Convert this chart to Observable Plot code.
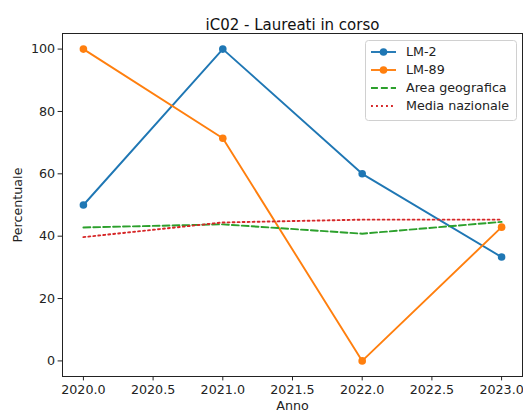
<!DOCTYPE html>
<html>
<head>
<meta charset="utf-8">
<script src="https://cdn.jsdelivr.net/npm/d3@7"></script>
<script src="https://cdn.jsdelivr.net/npm/@observablehq/plot@0.6"></script>
<style>
  body { margin: 0; background: #fff; }
  #wrap { position: relative; width: 523px; height: 412px; overflow: hidden; font-family: "DejaVu Sans", sans-serif; }
  #legend { position: absolute; left: 365px; top: 40px; }
</style>
</head>
<body>
<div id="wrap"></div>
<script>
const title = "iC02 - Laureati in corso";
const xLabel = "Anno";
const yLabel = "Percentuale";
const years = [2020, 2021, 2022, 2023];
const xTicks = [2020.0, 2020.5, 2021.0, 2021.5, 2022.0, 2022.5, 2023.0];
const yTicks = [0, 20, 40, 60, 80, 100];
const seriesNames = ["LM-2", "LM-89", "Area geografica", "Media nazionale"];
const lm2 = [50, 100, 60, 33.3];
const lm89 = [100, 71.4, 0, 42.9];
const areaGeo = [42.8, 43.8, 40.8, 44.6];
const mediaNaz = [39.7, 44.4, 45.3, 45.3];
const seriesColors = ["#1f77b4", "#ff7f0e", "#2ca02c", "#d62728"];
const seriesDash = [null, null, "6.9,3", "1.9,3.1"];
const seriesMarkers = [true, true, false, false];

const allValues = [lm2, lm89, areaGeo, mediaNaz];
const rows = [];
allValues.forEach((vals, si) => vals.forEach((v, i) => rows.push({serie: seriesNames[si], anno: years[i], val: v})));

const marks = [Plot.frame({stroke: "#222", strokeWidth: 1})];
seriesNames.forEach((name, si) => {
  const d = rows.filter(r => r.serie === name);
  marks.push(Plot.line(d, {x: "anno", y: "val", stroke: seriesColors[si], strokeWidth: 1.9,
    strokeDasharray: seriesDash[si] || undefined}));
  if (seriesMarkers[si]) marks.push(Plot.dot(d, {x: "anno", y: "val", r: 3.8, fill: seriesColors[si], stroke: "none"}));
});
marks.push(Plot.text([title], {frameAnchor: "top", dy: -14.5, fontSize: 15, fill: "#111"}));

const chart = Plot.plot({
  width: 523, height: 412,
  marginTop: 33, marginLeft: 62, marginRight: 1, marginBottom: 36,
  style: {fontFamily: "DejaVu Sans, sans-serif", fontSize: "12.7px", color: "#222", background: "white"},
  x: {domain: [2019.85, 2023.15], ticks: xTicks, tickFormat: d3.format(".1f"), tickSize: 4.4, tickPadding: 4, label: xLabel, labelAnchor: "center", labelArrow: "none", labelOffset: 33},
  y: {domain: [-5, 105], ticks: yTicks, tickSize: 4.4, tickPadding: 3, label: yLabel, labelAnchor: "center", labelArrow: "none", labelOffset: 50},
  marks
});
document.getElementById("wrap").appendChild(chart);

// legend
const ns = "http://www.w3.org/2000/svg";
const lw = 152, lh = 81, rowH = 18;
const leg = document.createElementNS(ns, "svg");
leg.setAttribute("id", "legend");
leg.setAttribute("width", lw); leg.setAttribute("height", lh);
const box = document.createElementNS(ns, "rect");
box.setAttribute("x", 0.5); box.setAttribute("y", 0.5); box.setAttribute("width", lw - 1); box.setAttribute("height", lh - 1);
box.setAttribute("rx", 3); box.setAttribute("fill", "white"); box.setAttribute("fill-opacity", 0.8); box.setAttribute("stroke", "#d0d0d0");
leg.appendChild(box);
seriesNames.forEach((name, i) => {
  const cy = 12 + i * rowH;
  const ln = document.createElementNS(ns, "line");
  ln.setAttribute("x1", 6); ln.setAttribute("x2", 31); ln.setAttribute("y1", cy); ln.setAttribute("y2", cy);
  ln.setAttribute("stroke", seriesColors[i]); ln.setAttribute("stroke-width", 1.9);
  if (seriesDash[i]) ln.setAttribute("stroke-dasharray", seriesDash[i]);
  leg.appendChild(ln);
  if (seriesMarkers[i]) {
    const c = document.createElementNS(ns, "circle");
    c.setAttribute("cx", 18.5); c.setAttribute("cy", cy); c.setAttribute("r", 3.8); c.setAttribute("fill", seriesColors[i]);
    leg.appendChild(c);
  }
  const t = document.createElementNS(ns, "text");
  t.setAttribute("x", 41); t.setAttribute("y", cy); t.setAttribute("dy", "0.35em");
  t.setAttribute("font-size", "12.7px"); t.setAttribute("font-family", "DejaVu Sans, sans-serif"); t.setAttribute("fill", "#222");
  t.textContent = name;
  leg.appendChild(t);
});
document.getElementById("wrap").appendChild(leg);
</script>
</body>
</html>
